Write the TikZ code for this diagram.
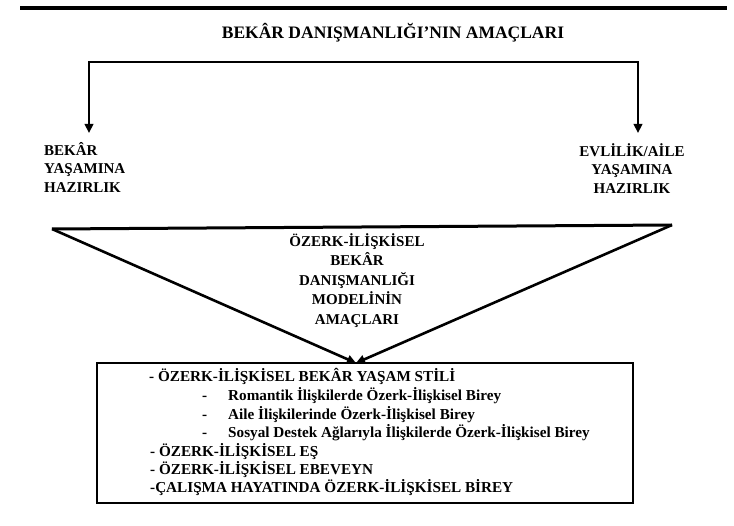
\documentclass[tikz,border=0pt]{standalone}
\usepackage{fontspec}
\setmainfont{Liberation Serif}
\usetikzlibrary{arrows.meta}
\begin{document}
\begin{tikzpicture}[x=1pt,y=-1pt,
  heavy/.style={line width=3pt},
  arr/.style={line width=2.6pt,-{Triangle[length=9pt,width=8.5pt]}},
  ttl/.style={font=\fontsize{17.5}{20}\selectfont\bfseries,inner sep=0pt},
  lbl/.style={font=\fontsize{15}{18.5}\selectfont\bfseries,inner sep=0pt},
  itm/.style={font=\fontsize{15.2}{18}\selectfont\bfseries,inner sep=0pt,anchor=base west},
  boxed/.style={draw,line width=2pt,minimum width=536pt,minimum height=140pt,inner sep=0pt}]
\useasboundingbox (0,0) rectangle (734,526);
% top rule
\coordinate (rl) at (20,8);
\coordinate (rr) at (727,8);
\draw[line width=3.5pt] (rl) -- (rr);
% title
\node[ttl] (title) at (393,33) {BEKÂR DANIŞMANLIĞI’NIN AMAÇLARI};
% bracket
\coordinate (bm) at (363,62);
\coordinate (ltip) at (89,133);
\coordinate (rtip) at (638,133);
\draw[arr] (bm) -| (ltip);
\draw[arr] (bm) -| (rtip);
% side labels
\node[lbl,anchor=north west,align=left] (left) at (44,142) {BEKÂR\\YAŞAMINA\\HAZIRLIK};
\node[lbl,anchor=north,align=center] (right) at (632,143) {EVLİLİK/AİLE\\YAŞAMINA\\HAZIRLIK};
% funnel
\coordinate (tl) at (52,229);
\coordinate (tr) at (672,225);
\coordinate (apex) at (356,363);
\draw[heavy] (tl) -- (tr);
\draw[arr] (tl) -- (apex);
\draw[arr] (tr) -- (apex);
\node[lbl,anchor=north,align=center,font=\fontsize{15}{19.5}\selectfont\bfseries] (mid) at (357,233)
  {ÖZERK-İLİŞKİSEL\\BEKÂR\\DANIŞMANLIĞI\\MODELİNİN\\AMAÇLARI};
% box
\node[boxed] (box) at (365,433) {};
\node[itm] (i1) at (149,382) {- ÖZERK-İLİŞKİSEL BEKÂR YAŞAM STİLİ};
\node[itm] (d1) at (202,401) {-};
\node[itm] (s1) at (228,401) {Romantik İlişkilerde Özerk-İlişkisel Birey};
\node[itm] (d2) at (202,420) {-};
\node[itm] (s2) at (228,420) {Aile İlişkilerinde Özerk-İlişkisel Birey};
\node[itm] (d3) at (202,438) {-};
\node[itm] (s3) at (228,438) {Sosyal Destek Ağlarıyla İlişkilerde Özerk-İlişkisel Birey};
\node[itm] (i2) at (150,457) {- ÖZERK-İLİŞKİSEL EŞ};
\node[itm] (i3) at (150,475) {- ÖZERK-İLİŞKİSEL EBEVEYN};
\node[itm] (i4) at (150,493) {-ÇALIŞMA HAYATINDA ÖZERK-İLİŞKİSEL BİREY};
\end{tikzpicture}
\end{document}
